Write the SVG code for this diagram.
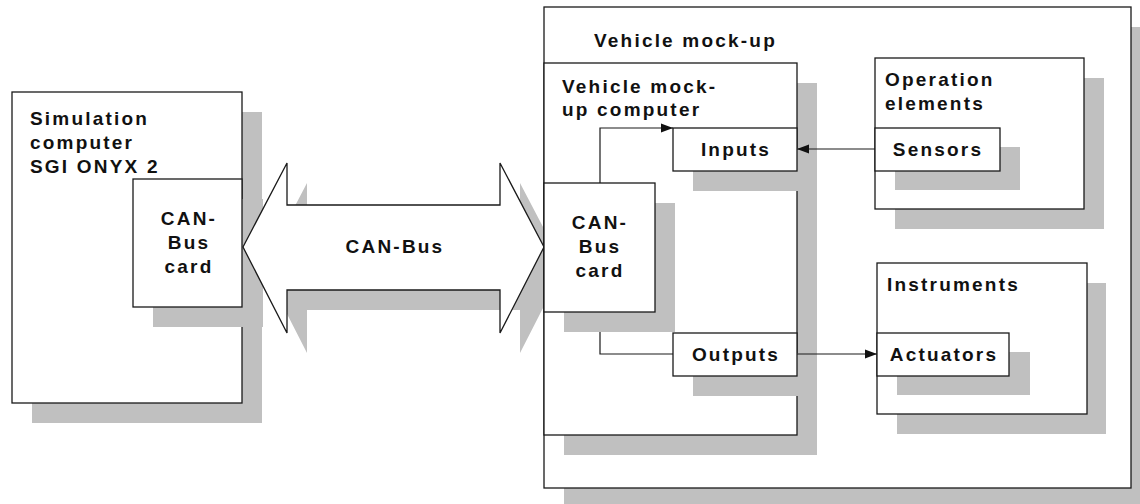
<svg xmlns="http://www.w3.org/2000/svg" width="1140" height="504" viewBox="0 0 1140 504">
<defs>
<style>
.sh{fill:#c0c0c0;stroke:none}
.bx{fill:#fff;stroke:#1a1a1a;stroke-width:1.3}
.ln{fill:none;stroke:#1a1a1a;stroke-width:1.2}
text{font-family:"Liberation Sans",Arial,sans-serif;font-weight:bold;font-size:19px;letter-spacing:2.2px;fill:#111}
.c{text-anchor:middle}
</style>
<marker id="ah" viewBox="0 0 12 10" refX="12" refY="5" markerWidth="12" markerHeight="10" markerUnits="userSpaceOnUse" orient="auto">
<path d="M0,0.5 L12,5 L0,9.5 z" fill="#111"/>
</marker>
</defs>
<rect width="1140" height="504" fill="#fff"/>

<g id="sim-computer">
<rect class="sh" x="32" y="112" width="230" height="311"/>
<rect class="bx" x="12" y="92" width="230" height="311"/>
<text x="30" y="125">Simulation</text>
<text x="30" y="149">computer</text>
<text x="30" y="173">SGI ONYX 2</text>
</g>

<g id="sim-canbus-card">
<rect class="sh" x="153" y="199" width="110" height="128"/>
<rect class="bx" x="133" y="179" width="109" height="128"/>
<text class="c" x="189" y="225">CAN-</text>
<text class="c" x="189" y="249">Bus</text>
<text class="c" x="189" y="273">card</text>
</g>

<g id="canbus">
<path class="sh" d="M263,267 L307,183 L307,225 L520,225 L520,183 L564,267 L520,353 L520,310 L307,310 L307,353 Z"/>
<path class="bx" d="M243,247 L287,163 L287,205 L500,205 L500,163 L544,247 L500,333 L500,290 L287,290 L287,333 Z"/>
<text class="c" x="395" y="253">CAN-Bus</text>
</g>

<g id="vehicle-mockup">
<rect class="sh" x="564" y="27" width="590" height="481"/>
<rect class="bx" x="544" y="7" width="587" height="481"/>
<text x="594" y="47">Vehicle mock-up</text>
</g>

<g id="mockup-computer">
<rect class="sh" x="564" y="83" width="253" height="372"/>
<rect class="bx" x="544" y="63" width="253" height="372"/>
<text x="562" y="93">Vehicle mock-</text>
<text x="562" y="116">up computer</text>
</g>

<g id="vm-canbus-card">
<rect class="sh" x="564" y="203" width="111" height="129"/>
<rect class="bx" x="544" y="183" width="111" height="129"/>
<text class="c" x="600" y="229">CAN-</text>
<text class="c" x="600" y="253">Bus</text>
<text class="c" x="600" y="277">card</text>
</g>

<g id="inputs">
<rect class="sh" x="693" y="148" width="124" height="43"/>
<rect class="bx" x="673" y="128" width="124" height="43"/>
<text class="c" x="736" y="156">Inputs</text>
</g>

<g id="outputs">
<rect class="sh" x="693" y="353" width="124" height="43"/>
<rect class="bx" x="673" y="333" width="124" height="43"/>
<text class="c" x="736" y="361">Outputs</text>
</g>

<g id="operation-elements">
<rect class="sh" x="895" y="78" width="209" height="151"/>
<rect class="bx" x="875" y="58" width="209" height="151"/>
<text x="885" y="86">Operation</text>
<text x="885" y="110">elements</text>
</g>

<g id="sensors">
<rect class="sh" x="895" y="147" width="125" height="43"/>
<rect class="bx" x="875" y="128" width="125" height="43"/>
<text class="c" x="938" y="156">Sensors</text>
</g>

<g id="instruments">
<rect class="sh" x="897" y="283" width="209" height="151"/>
<rect class="bx" x="877" y="263" width="210" height="151"/>
<text x="887" y="291">Instruments</text>
</g>

<g id="actuators">
<rect class="sh" x="897" y="352" width="133" height="43"/>
<rect class="bx" x="877" y="333" width="132" height="43"/>
<text class="c" x="944" y="361">Actuators</text>
</g>

<g id="connectors">
<polyline class="ln" points="600,183 600,128 673,128" marker-end="url(#ah)"/>
<polyline class="ln" points="600,332 600,354 673,354"/>
<line class="ln" x1="875" y1="149" x2="797" y2="149" marker-end="url(#ah)"/>
<line class="ln" x1="797" y1="354" x2="877" y2="354" marker-end="url(#ah)"/>
</g>
</svg>
